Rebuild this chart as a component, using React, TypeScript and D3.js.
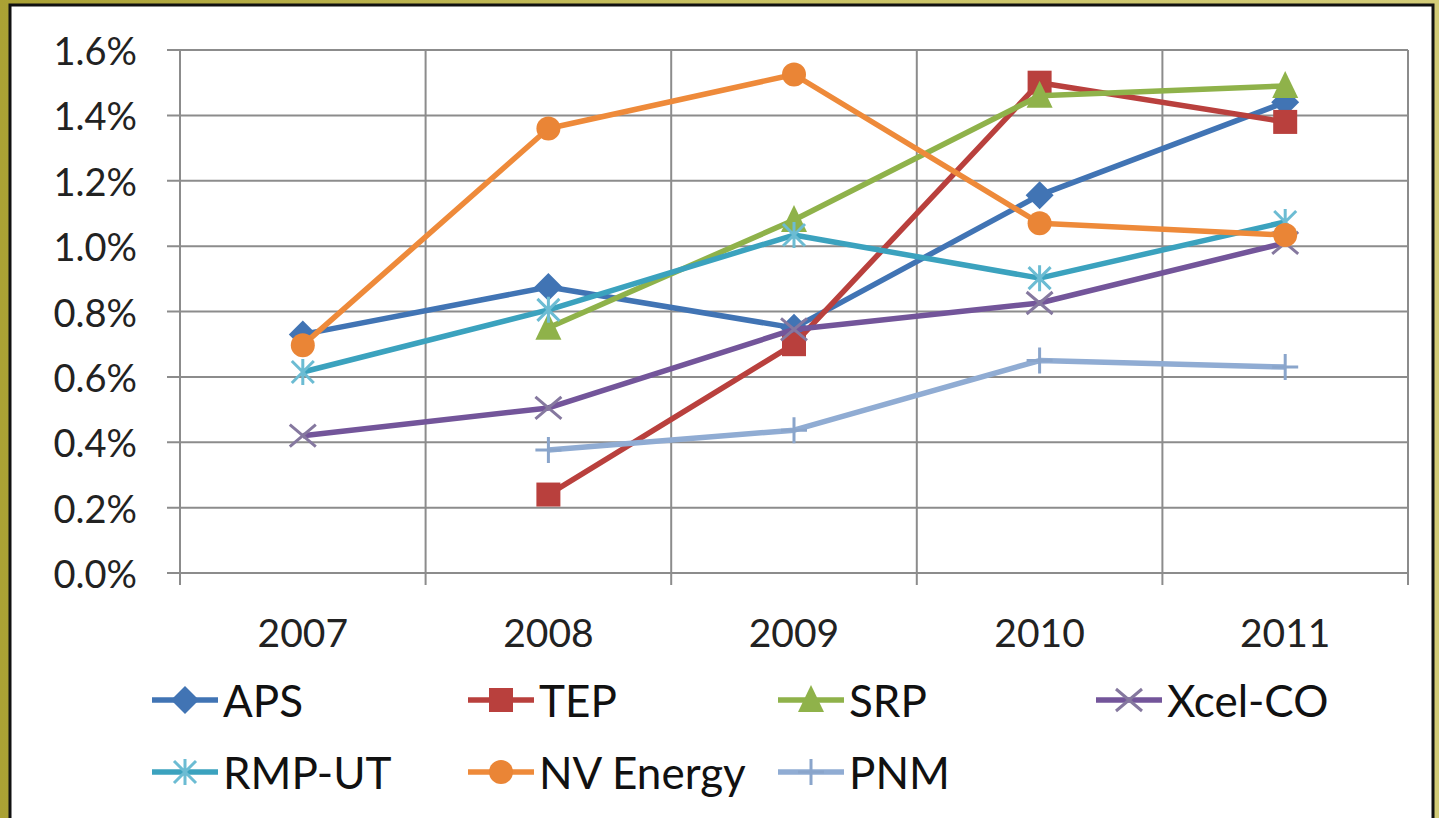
import React from 'react';
import * as d3 from 'd3';

// years on the x axis
const years = ['2007', '2008', '2009', '2010', '2011'];
// percent values, null = no data that year
const aps = [0.73, 0.875, 0.75, 1.156, 1.44];
const tep = [null, 0.24, 0.7, 1.5, 1.38];
const srp = [null, 0.75, 1.08, 1.46, 1.49];
const xcel = [0.42, 0.505, 0.745, 0.826, 1.01];
const rmp = [0.615, 0.805, 1.034, 0.902, 1.074];
const nv = [0.697, 1.36, 1.525, 1.07, 1.034];
const pnm = [null, 0.376, 0.437, 0.65, 0.63];
const yTicks = [0, 0.2, 0.4, 0.6, 0.8, 1.0, 1.2, 1.4, 1.6];

const series = [
  { name: 'APS', values: aps, color: '#4174b4', mark: '#4174b4', shape: 'diamond' },
  { name: 'TEP', values: tep, color: '#b9403d', mark: '#b9403d', shape: 'square' },
  { name: 'SRP', values: srp, color: '#8fb24a', mark: '#8fb24a', shape: 'triangle' },
  { name: 'Xcel-CO', values: xcel, color: '#73559a', mark: '#85789f', shape: 'x' },
  { name: 'RMP-UT', values: rmp, color: '#3ba2be', mark: '#6cbcd3', shape: 'star' },
  { name: 'NV Energy', values: nv, color: '#ee8a3a', mark: '#ea8536', shape: 'circle' },
  { name: 'PNM', values: pnm, color: '#90acd3', mark: '#8aa5cb', shape: 'plus' },
];

const FONT = 'Lato, "Open Sans", sans-serif';

function Marker({ shape, x, y, color }) {
  const s = 13;
  switch (shape) {
    case 'diamond':
      return <path d={`M${x},${y - s - 1}L${x + s + 1},${y}L${x},${y + s + 1}L${x - s - 1},${y}Z`} fill={color} />;
    case 'square':
      return <rect x={x - s + 1} y={y - s + 1} width={s * 2 - 2} height={s * 2 - 2} fill={color} />;
    case 'triangle':
      return <path d={`M${x},${y - s - 2}L${x + s},${y + s - 1}L${x - s},${y + s - 1}Z`} fill={color} />;
    case 'circle':
      return <circle cx={x} cy={y} r={s - 1} fill={color} />;
    case 'x':
      return (
        <path d={`M${x - s},${y - s + 2}L${x + s},${y + s - 2}M${x - s},${y + s - 2}L${x + s},${y - s + 2}`}
          stroke={color} strokeWidth={3} />
      );
    case 'star':
      return (
        <path d={`M${x - s + 2},${y - s + 2}L${x + s - 2},${y + s - 2}M${x - s + 2},${y + s - 2}L${x + s - 2},${y - s + 2}M${x},${y - s}L${x},${y + s}`}
          stroke={color} strokeWidth={3} />
      );
    case 'plus':
      return (
        <path d={`M${x - s},${y}L${x + s},${y}M${x},${y - s}L${x},${y + s}`}
          stroke={color} strokeWidth={3} />
      );
    default:
      return null;
  }
}

export default function App() {
  const width = 1439;
  const height = 818;
  const left = 180, right = 1408, top = 50, bottom = 573;

  const x = d3.scaleBand().domain(years).range([left, right]);
  const y = d3.scaleLinear().domain([0, 1.6]).range([bottom, top]);
  const cx = (yr) => x(yr) + x.bandwidth() / 2;

  const line = d3.line()
    .defined((d) => d != null)
    .x((d, i) => cx(years[i]))
    .y((d) => y(d));

  const legendCols = [152, 468, 778, 1096];
  const legendRows = [700, 772];

  return (
    <div style={{ position: 'absolute', left: 0, top: 0 }}>
      <svg width={width} height={height} style={{ display: 'block' }}>
        <defs>
          <linearGradient id="olive" x1="0" y1="0" x2="1" y2="0">
            <stop offset="0" stopColor="#aaa134" />
            <stop offset="0.5" stopColor="#c9c262" />
            <stop offset="1" stopColor="#d3cc78" />
          </linearGradient>
        </defs>
        <rect x={0} y={0} width={width} height={height} fill="url(#olive)" />
        <rect x={10} y={5} width={1423} height={height + 10} fill="#fff" stroke="#111" strokeWidth={3} />

        {/* horizontal grid */}
        {yTicks.map((t) => (
          <line key={t} x1={left - 13} x2={right} y1={y(t)} y2={y(t)} stroke="#8c8c8c" strokeWidth={2} />
        ))}
        {/* vertical grid at category boundaries */}
        {years.concat(['end']).map((yr, i) => {
          const xv = left + i * x.bandwidth();
          return <line key={yr} x1={xv} x2={xv} y1={top} y2={bottom + 12} stroke="#8c8c8c" strokeWidth={2} />;
        })}

        {yTicks.map((t) => (
          <text key={t} x={137} y={y(t)} textAnchor="end" dominantBaseline="central"
            fontFamily={FONT} fontSize={38} fill="#222">{t.toFixed(1)}%</text>
        ))}
        {years.map((yr) => (
          <text key={yr} x={cx(yr)} y={632} textAnchor="middle" dominantBaseline="central"
            fontFamily={FONT} fontSize={39} fill="#222">{yr}</text>
        ))}

        {series.map((s) => (
          <g key={s.name}>
            <path d={line(s.values)} fill="none" stroke={s.color} strokeWidth={5.5} strokeLinejoin="round" />
            {s.values.map((v, i) => v == null ? null : (
              <Marker key={i} shape={s.shape} x={cx(years[i])} y={y(v)} color={s.mark} />
            ))}
          </g>
        ))}

        {series.map((s, i) => {
          const lx = legendCols[i % 4];
          const ly = legendRows[Math.floor(i / 4)];
          return (
            <g key={s.name}>
              <line x1={lx} x2={lx + 66} y1={ly} y2={ly} stroke={s.color} strokeWidth={5.5} />
              <Marker shape={s.shape} x={lx + 33} y={ly} color={s.mark} />
              <text x={lx + 71} y={ly} dominantBaseline="central" fontFamily={FONT} fontSize={44} fill="#111">{s.name}</text>
            </g>
          );
        })}
      </svg>
    </div>
  );
}
